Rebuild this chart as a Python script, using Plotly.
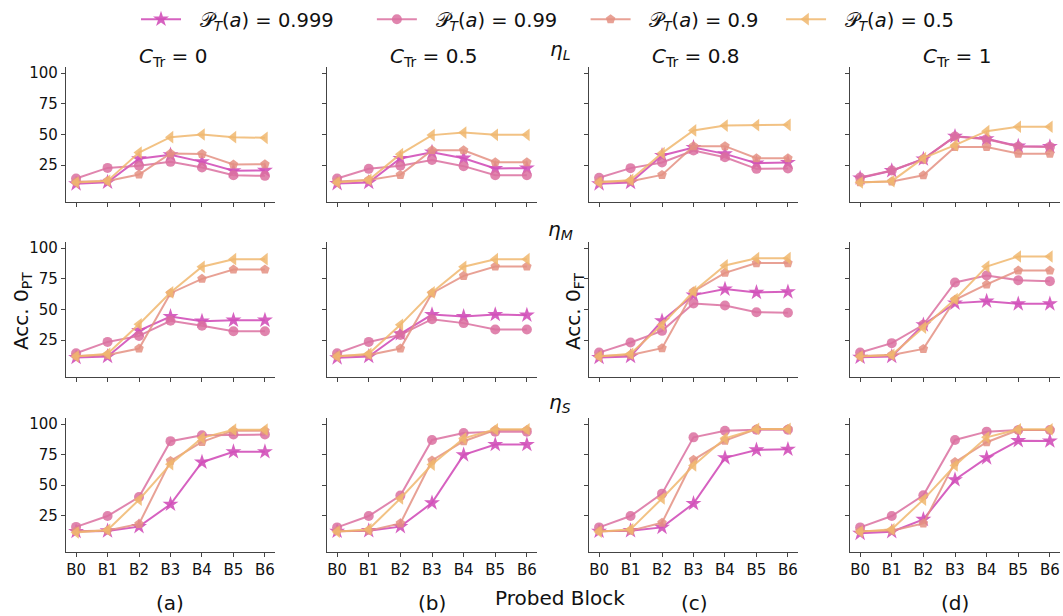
import plotly.graph_objects as go
from plotly.subplots import make_subplots

blocks = ["B0", "B1", "B2", "B3", "B4", "B5", "B6"]
prob_labels = ["0.999", "0.99", "0.9", "0.5"]
col_titles = ["0", "0.5", "0.8", "1"]
row_labels = ["L", "M", "S"]
captions = ["(a)", "(b)", "(c)", "(d)"]
y_ticks = [25, 50, 75, 100]

# each panel: series order 0.999, 0.99, 0.9, 0.5
etaL_C0 = [[9.8, 11.1, 30.2, 33.4, 27.7, 20.4, 20.7],
           [14.1, 22.8, 24.5, 27.7, 23.1, 16.8, 16.3],
           [11.5, 12.2, 17.4, 34.5, 34.2, 25.5, 25.8],
           [10.9, 12.2, 35.3, 47.8, 50.0, 47.8, 47.3]]
etaL_C05 = [[10.0, 10.9, 30.4, 35.6, 30.7, 22.3, 22.6],
            [14.1, 22.0, 24.5, 29.3, 24.2, 16.8, 16.8],
            [11.7, 13.0, 17.1, 37.2, 37.2, 27.4, 27.4],
            [10.9, 13.0, 34.0, 49.5, 51.6, 49.7, 49.7]]
etaL_C08 = [[9.8, 10.9, 32.9, 39.4, 34.2, 26.6, 27.2],
            [14.7, 22.6, 27.2, 37.0, 31.5, 22.0, 22.3],
            [11.7, 12.0, 17.1, 40.5, 40.5, 30.7, 30.7],
            [10.9, 13.0, 34.8, 53.3, 57.3, 57.6, 57.9]]
etaL_C1 = [[14.5, 20.5, 30.0, 48.5, 46.5, 40.5, 40.2],
           [14.9, 20.7, 29.9, 48.4, 46.2, 40.2, 39.9],
           [11.1, 11.7, 16.8, 39.9, 39.9, 34.4, 34.4],
           [10.9, 12.0, 30.7, 41.3, 52.7, 56.3, 56.3]]

etaM_C0 = [[10.9, 11.7, 32.9, 44.3, 40.5, 41.3, 41.3],
           [14.4, 23.6, 28.5, 40.8, 36.7, 32.3, 32.3],
           [12.2, 13.0, 18.2, 63.3, 75.0, 82.6, 82.6],
           [11.7, 13.9, 38.0, 63.9, 84.8, 91.0, 91.0]]
etaM_C05 = [[10.6, 11.7, 30.2, 45.9, 44.3, 45.9, 45.4],
            [14.4, 23.6, 29.3, 42.1, 38.9, 33.7, 33.7],
            [12.2, 13.0, 18.2, 63.3, 77.4, 85.0, 85.0],
            [11.7, 13.9, 37.5, 63.9, 84.8, 91.0, 91.0]]
etaM_C08 = [[10.9, 11.7, 40.8, 61.7, 66.6, 63.9, 64.4],
            [14.9, 23.1, 32.6, 54.9, 53.3, 47.8, 47.3],
            [12.2, 13.0, 18.5, 64.7, 79.9, 87.8, 87.8],
            [11.7, 13.9, 37.5, 64.7, 85.9, 91.8, 91.8]]
etaM_C1 = [[11.1, 11.7, 37.5, 55.2, 56.8, 54.6, 54.6],
           [14.9, 22.6, 37.5, 72.0, 77.7, 73.9, 73.1],
           [12.2, 13.0, 17.9, 57.9, 70.4, 81.8, 81.8],
           [11.7, 13.0, 35.3, 58.4, 85.0, 93.2, 93.2]]

etaS_C0 = [[11.8, 12.3, 15.8, 34.2, 68.7, 77.3, 77.3],
           [15.6, 24.5, 40.1, 86.0, 90.8, 91.4, 91.4],
           [12.1, 12.6, 18.0, 69.8, 85.4, 94.6, 94.6],
           [11.0, 13.1, 37.9, 67.1, 88.7, 95.4, 95.4]]
etaS_C05 = [[12.0, 12.5, 15.8, 35.3, 74.7, 83.2, 83.2],
            [15.2, 24.5, 41.3, 87.0, 92.7, 93.8, 93.8],
            [12.2, 12.5, 18.5, 70.1, 85.9, 95.1, 95.1],
            [11.7, 13.6, 38.9, 66.8, 88.3, 95.7, 95.7]]
etaS_C08 = [[12.0, 12.5, 15.2, 34.8, 72.3, 78.8, 79.3],
            [15.2, 24.5, 42.9, 89.1, 94.6, 95.4, 95.4],
            [12.2, 12.5, 19.0, 70.7, 86.4, 96.0, 96.0],
            [11.7, 13.6, 38.9, 66.0, 88.3, 96.0, 96.0]]
etaS_C1 = [[10.3, 11.7, 21.7, 54.3, 72.3, 86.4, 86.1],
           [15.2, 24.5, 41.6, 87.0, 93.8, 95.1, 95.1],
           [12.2, 12.5, 18.5, 68.8, 85.1, 95.1, 95.1],
           [11.7, 13.6, 38.0, 66.0, 89.1, 95.7, 95.7]]

panels = [[etaL_C0, etaL_C05, etaL_C08, etaL_C1],
          [etaM_C0, etaM_C05, etaM_C08, etaM_C1],
          [etaS_C0, etaS_C05, etaS_C08, etaS_C1]]

colors = ["rgba(210,80,185,0.9)", "rgba(218,112,160,0.85)",
          "rgba(228,145,130,0.85)", "rgba(240,183,110,0.85)"]
symbols = ["star", "circle", "pentagon", "triangle-left"]
msizes = [12, 10, 10, 11]

W, H = 1063, 616
col_px = [(66, 275), (327, 537), (589, 798), (850, 1060)]
row_px = [(67, 202), (242, 377), (418, 552)]
font = "DejaVu Sans"


def px(xp):
    return xp / W


def py(yp):
    return 1 - yp / H


fig = make_subplots(rows=3, cols=4)

lead = "\u2002\u2009"
trails = ["\u2003\u2002\u2009", "\u2003\u2009", "\u2002\u2009\u2009", ""]
for r in range(3):
    for c in range(4):
        for s in range(4):
            fig.add_trace(go.Scatter(
                x=list(range(len(blocks))), y=panels[r][c][s],
                mode="lines+markers",
                line=dict(color=colors[s], width=2),
                marker=dict(symbol=symbols[s], size=msizes[s], color=colors[s]),
                name=lead + "𝒫<sub><i>T</i></sub>(<i>a</i>) = " + prob_labels[s] + trails[s],
                showlegend=(r == 0 and c == 0),
                legendgroup=str(s),
            ), row=r + 1, col=c + 1)
        idx = r * 4 + c + 1
        xa = "xaxis" if idx == 1 else f"xaxis{idx}"
        ya = "yaxis" if idx == 1 else f"yaxis{idx}"
        x0, x1 = col_px[c]
        y0, y1 = row_px[r]
        fig.layout[xa].update(
            domain=[px(x0), px(x1)], range=[-0.32, 6.32],
            tickvals=list(range(len(blocks))), ticktext=blocks,
            showticklabels=(r == 2), ticks="outside", ticklen=4, tickcolor="#444",
            showline=True, linecolor="#444", linewidth=1.2, showgrid=False,
            zeroline=False, automargin=False,
            tickfont=dict(size=15, color="#111", family=font))
        fig.layout[ya].update(
            domain=[py(y1), py(y0)], range=[-5, 105],
            tickvals=y_ticks, showticklabels=(c == 0), ticks="outside", ticklen=4,
            tickcolor="#444", showline=True, linecolor="#444", linewidth=1.2,
            showgrid=False, zeroline=False, automargin=False,
            tickfont=dict(size=15, color="#111", family=font))


def note(x, y, text, size=20, angle=0):
    return dict(x=px(x), y=py(y), xref="paper", yref="paper", text=text,
                showarrow=False, xanchor="center", yanchor="middle", textangle=angle,
                font=dict(size=size, family=font, color="#111"))


ann = []
for c in range(4):
    cx = (col_px[c][0] + col_px[c][1]) / 2 + 2
    ann.append(note(cx, 57, f"<i>C</i><sub>Tr</sub> = {col_titles[c]}"))
    ann.append(note([170, 432, 694, 955][c], 603, captions[c]))
for r, yp in enumerate([50, 230, 403]):
    ann.append(note(560, yp, f"<i>η<sub>{row_labels[r]}</sub></i>"))
ann.append(note(22, 311, "Acc. 0<sub>PT</sub>", angle=-90))
ann.append(note(574, 311, "Acc. 0<sub>FT</sub>", angle=-90))
ann.append(note(560, 598, "Probed Block"))

fig.update_layout(
    width=W, height=H, margin=dict(l=0, r=0, t=0, b=0, autoexpand=False),
    plot_bgcolor="white", paper_bgcolor="white",
    annotations=ann,
    legend=dict(orientation="h", x=px(136), y=1, xanchor="left", yanchor="top",
                font=dict(size=19.5, family=font, color="#111"),
                bgcolor="rgba(0,0,0,0)", itemwidth=40, tracegroupgap=0),
)

fig.write_html("out.html", config={"displayModeBar": False},
               post_script="document.body.style.margin='0';document.body.style.overflow='hidden';")
